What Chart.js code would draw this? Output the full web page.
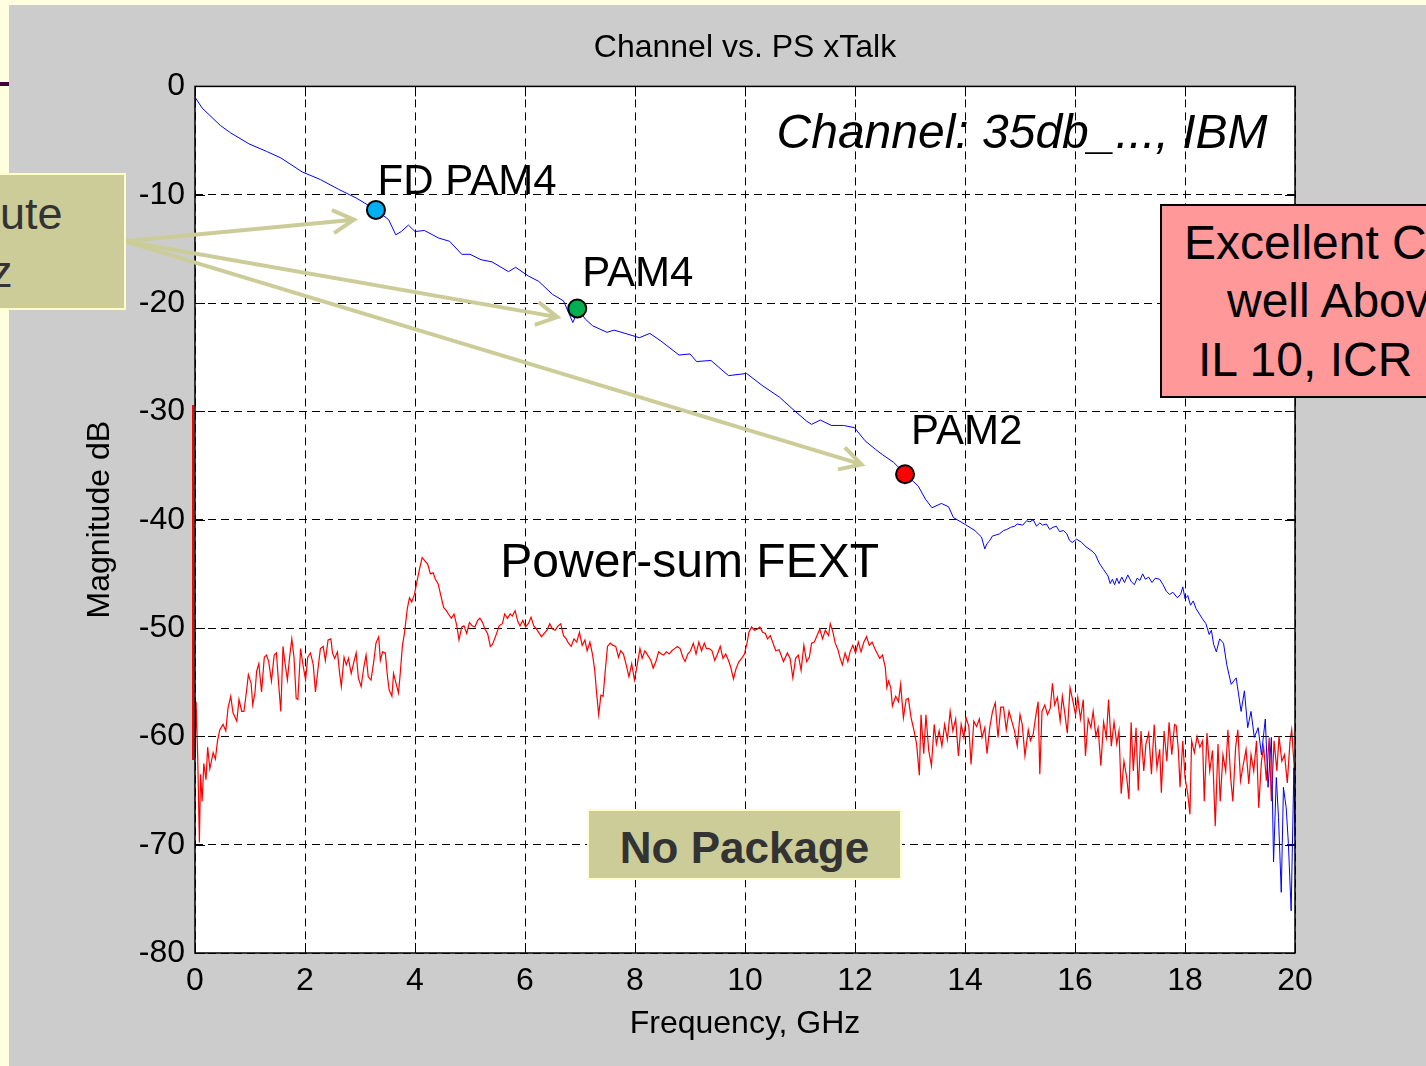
<!DOCTYPE html>
<html lang="en">
<head>
<meta charset="UTF-8">
<title>Channel vs. PS xTalk</title>
<script src="https://cdn.jsdelivr.net/npm/chart.js"></script>
<style>
    body {
        margin: 0;
        width: 1426px;
        height: 1066px;
        overflow: hidden;
        position: relative;
        background: #ffffe0;
        font-family: "Liberation Sans", Arial, sans-serif;
    }
    #panel { position: absolute; left: 9px; top: 5px; right: 0; bottom: 0; background: #cccccc; }
    #bar { position: absolute; left: 0; top: 82px; width: 9px; height: 4px; background: #400040; }
    #wrap { position: absolute; left: 64px; top: 0; width: 1362px; height: 1066px; }
    #redEdge { position: absolute; left: 192px; top: 405px; width: 2px; height: 355px; background: #ff0000; }
    .olive { position: absolute; background: #cccc99; border: 2px solid #ffffcc; box-sizing: border-box; }
    #leftBox { left: -10px; top: 173px; width: 136px; height: 137px; }
    .leftTxt { position: absolute; font-size: 45px; line-height: 58px; color: #333333; white-space: nowrap; }
    #pinkBox { position: absolute; left: 1160px; top: 204px; width: 300px; height: 194px; background: #ff9999; border: 2px solid #000; box-sizing: border-box; }
    .pinkTxt { position: absolute; font-size: 48px; line-height: 58px; color: #000; white-space: nowrap; }
    #pkgBox { left: 587px; top: 809px; width: 315px; height: 71px; display: flex; align-items: center; justify-content: center; padding-top: 6px; font-weight: bold; font-size: 44px; color: #333333; }
</style>
</head>
<body>
<div id="panel"></div>
<div id="bar"></div>
<div id="wrap"><canvas id="chart" width="1362" height="1066"></canvas></div>
<div id="redEdge"></div>
<div id="leftBox" class="olive"></div>
<div class="leftTxt" style="left:0; top:185px;">ute</div>
<div class="leftTxt" style="left:-10px; top:243px;">z</div>
<div id="pinkBox"></div>
<div class="pinkTxt" style="left:1184px; top:214px;">Excellent C</div>
<div class="pinkTxt" style="left:1227px; top:272px;">well Abov</div>
<div class="pinkTxt" style="left:1198px; top:331px;">IL 10, ICR</div>
<div id="pkgBox" class="olive">No Package</div>

<script>
// channel insertion loss (blue)
const ilFreq = [0.00, 0.13, 0.46, 0.65, 0.98, 1.30, 1.56, 1.95, 2.28, 2.61,
    2.93, 3.29, 3.52, 3.65, 3.75, 3.88, 4.00, 4.17, 4.43, 4.63,
    4.85, 5.00, 5.20, 5.40, 5.70, 5.83, 6.06, 6.25, 6.50, 6.70,
    6.87, 6.97, 7.10, 7.23, 7.49, 7.62, 7.82, 8.08, 8.27, 8.47,
    8.80, 9.00, 9.12, 9.38, 9.70, 10.03, 10.31, 10.63, 10.89, 11.12,
    11.21, 11.37, 11.57, 11.79, 11.99, 12.18, 12.37, 12.50, 12.70, 12.94,
    13.15, 13.28, 13.40, 13.57, 13.70, 13.79, 13.99, 14.18, 14.30, 14.36,
    14.40, 14.44, 14.50, 14.57, 14.63, 14.70, 14.76, 14.83, 14.90, 14.95,
    15.05, 15.12, 15.18, 15.24, 15.30, 15.36, 15.41, 15.48, 15.54, 15.60,
    15.66, 15.72, 15.79, 15.85, 15.90, 15.95, 16.03, 16.12, 16.20, 16.31,
    16.37, 16.44, 16.52, 16.60, 16.64, 16.68, 16.72, 16.76, 16.80, 16.85,
    16.90, 16.96, 17.02, 17.08, 17.13, 17.18, 17.23, 17.28, 17.34, 17.40,
    17.46, 17.54, 17.60, 17.66, 17.72, 17.78, 17.86, 17.92, 17.96, 18.00,
    18.05, 18.10, 18.15, 18.20, 18.31, 18.38, 18.44, 18.48, 18.52, 18.57,
    18.63, 18.70, 18.76, 18.84, 18.93, 19.02, 19.08, 19.14, 19.20, 19.26,
    19.33, 19.39, 19.46, 19.51, 19.57, 19.61, 19.66, 19.70, 19.75, 19.79,
    19.84, 19.88, 19.93, 19.98, 20.00];
const ilDb = [-1.0, -2.0, -3.6, -4.3, -5.3, -6.0, -6.6, -7.9, -8.6, -9.5,
    -10.3, -11.4, -12.3, -13.7, -13.4, -12.8, -13.4, -13.3, -14.0, -14.3,
    -15.5, -15.5, -16.0, -16.2, -17.1, -16.7, -17.5, -18.0, -19.2, -19.8,
    -21.8, -20.6, -21.5, -22.1, -22.7, -22.5, -22.8, -23.2, -22.8, -23.5,
    -24.8, -24.7, -25.4, -25.3, -26.7, -26.5, -27.6, -28.7, -29.9, -30.9,
    -31.2, -30.8, -31.3, -31.3, -31.5, -32.7, -33.5, -34.0, -34.7, -35.9,
    -36.9, -38.1, -38.9, -38.5, -38.8, -39.8, -40.4, -41.0, -41.6, -42.7,
    -42.2, -42.0, -41.5, -41.4, -41.3, -41.0, -40.9, -40.7, -40.6, -40.4,
    -40.5, -40.1, -40.2, -40.0, -40.6, -40.3, -40.5, -40.4, -40.9, -40.7,
    -40.6, -41.1, -41.0, -41.3, -41.9, -42.1, -41.8, -42.1, -42.5, -42.9,
    -43.2, -44.0, -44.6, -45.2, -45.9, -45.5, -46.0, -45.4, -45.9, -45.3,
    -45.8, -45.1, -45.7, -46.0, -45.4, -45.6, -45.0, -45.5, -45.3, -45.8,
    -45.4, -45.5, -46.0, -46.6, -46.9, -46.7, -47.2, -46.9, -46.2, -47.3,
    -47.0, -47.9, -47.5, -48.2, -49.1, -49.6, -50.6, -50.2, -51.5, -52.2,
    -51.0, -51.4, -53.4, -55.2, -54.6, -57.7, -55.8, -59.2, -57.7, -60.1,
    -59.2, -61.7, -58.4, -64.7, -60.1, -71.6, -63.8, -67.5, -74.4, -64.7,
    -66.6, -69.9, -76.1, -62.9, -69.3];

// power-sum FEXT (red)
const fextFreq = [0.00, 0.02, 0.05, 0.08, 0.10, 0.13, 0.16, 0.20, 0.23, 0.27, 0.33, 0.37, 0.41, 0.45, 0.51, 0.56, 0.60, 0.65, 0.69, 0.76,
    0.80, 0.85, 0.89, 0.94, 0.97, 1.02, 1.05, 1.09, 1.12, 1.16, 1.21, 1.26, 1.30, 1.34, 1.39, 1.44, 1.48, 1.52, 1.56, 1.60,
    1.63, 1.68, 1.72, 1.76, 1.80, 1.84, 1.87, 1.92, 1.96, 2.01, 2.05, 2.10, 2.15, 2.19, 2.24, 2.28, 2.33, 2.37, 2.42, 2.47,
    2.50, 2.54, 2.59, 2.63, 2.66, 2.71, 2.75, 2.79, 2.84, 2.89, 2.93, 2.97, 3.02, 3.07, 3.11, 3.15, 3.20, 3.25, 3.29, 3.34,
    3.37, 3.41, 3.46, 3.50, 3.53, 3.58, 3.61, 3.66, 3.70, 3.73, 3.77, 3.81, 3.86, 3.90, 3.94, 3.99, 4.04, 4.08, 4.13, 4.18,
    4.23, 4.28, 4.33, 4.37, 4.42, 4.47, 4.52, 4.57, 4.62, 4.66, 4.71, 4.76, 4.80, 4.85, 4.89, 4.94, 4.99, 5.04, 5.09, 5.14,
    5.18, 5.23, 5.27, 5.32, 5.37, 5.41, 5.47, 5.53, 5.59, 5.63, 5.68, 5.73, 5.77, 5.82, 5.87, 5.91, 5.96, 6.01, 6.06, 6.11,
    6.16, 6.21, 6.26, 6.30, 6.35, 6.40, 6.45, 6.50, 6.55, 6.60, 6.65, 6.70, 6.75, 6.79, 6.84, 6.89, 6.94, 6.99, 7.04, 7.09,
    7.13, 7.18, 7.23, 7.27, 7.30, 7.34, 7.38, 7.42, 7.46, 7.50, 7.55, 7.60, 7.65, 7.70, 7.74, 7.79, 7.84, 7.89, 7.94, 7.99,
    8.04, 8.09, 8.13, 8.18, 8.23, 8.29, 8.33, 8.38, 8.43, 8.48, 8.52, 8.57, 8.62, 8.67, 8.72, 8.77, 8.82, 8.87, 8.91, 8.96,
    9.01, 9.06, 9.11, 9.16, 9.21, 9.26, 9.30, 9.35, 9.40, 9.45, 9.50, 9.55, 9.60, 9.65, 9.70, 9.74, 9.79, 9.84, 9.89, 9.94,
    9.99, 10.04, 10.07, 10.12, 10.17, 10.22, 10.27, 10.32, 10.37, 10.41, 10.46, 10.51, 10.56, 10.62, 10.70, 10.77, 10.82, 10.87, 10.92, 10.97,
    11.02, 11.07, 11.12, 11.17, 11.21, 11.26, 11.31, 11.36, 11.41, 11.46, 11.52, 11.55, 11.60, 11.64, 11.69, 11.73, 11.77, 11.82, 11.87, 11.91,
    11.96, 12.01, 12.06, 12.11, 12.16, 12.21, 12.26, 12.31, 12.36, 12.40, 12.45, 12.50, 12.55, 12.58, 12.61, 12.65, 12.68, 12.74, 12.79, 12.83,
    12.88, 12.93, 12.97, 13.02, 13.07, 13.12, 13.17, 13.20, 13.25, 13.29, 13.34, 13.39, 13.44, 13.48, 13.53, 13.58, 13.63, 13.68, 13.73, 13.78,
    13.83, 13.88, 13.93, 13.98, 14.02, 14.07, 14.11, 14.16, 14.21, 14.26, 14.31, 14.36, 14.40, 14.45, 14.50, 14.55, 14.60, 14.65, 14.70, 14.75,
    14.80, 14.85, 14.90, 14.95, 15.00, 15.04, 15.09, 15.15, 15.19, 15.24, 15.29, 15.33, 15.36, 15.40, 15.45, 15.50, 15.55, 15.59, 15.63, 15.68,
    15.73, 15.77, 15.81, 15.86, 15.91, 15.96, 16.01, 16.05, 16.10, 16.15, 16.19, 16.24, 16.29, 16.33, 16.38, 16.42, 16.47, 16.52, 16.57, 16.61,
    16.66, 16.71, 16.76, 16.80, 16.84, 16.89, 16.94, 16.98, 17.02, 17.06, 17.11, 17.15, 17.20, 17.25, 17.29, 17.34, 17.39, 17.44, 17.49, 17.54,
    17.57, 17.62, 17.67, 17.71, 17.76, 17.81, 17.84, 17.88, 17.91, 17.96, 18.00, 18.05, 18.09, 18.12, 18.17, 18.22, 18.27, 18.32, 18.35, 18.40,
    18.45, 18.50, 18.55, 18.60, 18.64, 18.69, 18.74, 18.78, 18.83, 18.87, 18.92, 18.96, 19.01, 19.06, 19.11, 19.16, 19.20, 19.25, 19.30, 19.34,
    19.39, 19.43, 19.48, 19.53, 19.57, 19.62, 19.67, 19.71, 19.76, 19.81, 19.86, 19.91, 19.94, 19.99];
const fextDb = [-62.0, -56.8, -62.1, -69.8, -63.5, -66.0, -62.5, -64.0, -61.0, -63.0, -61.5, -62.1, -60.4, -59.4, -58.9, -59.5, -57.4, -56.3, -57.8, -58.6,
    -56.6, -57.7, -57.7, -55.7, -54.3, -55.1, -57.1, -56.0, -54.0, -53.3, -55.9, -52.7, -52.5, -53.1, -54.9, -52.5, -52.3, -55.1, -57.7, -51.7,
    -53.0, -54.8, -52.7, -51.0, -52.7, -56.5, -56.6, -51.9, -53.3, -54.8, -52.7, -52.3, -53.4, -55.9, -53.6, -51.9, -51.7, -53.0, -51.1, -51.0,
    -52.3, -52.8, -52.2, -54.2, -55.4, -52.7, -53.4, -52.8, -54.2, -53.1, -52.3, -54.6, -55.4, -53.6, -52.5, -54.5, -54.8, -53.1, -51.4, -50.8,
    -53.0, -52.2, -52.3, -54.5, -55.7, -56.3, -54.2, -55.2, -56.0, -54.3, -51.7, -50.4, -48.2, -47.2, -47.6, -46.9, -45.6, -44.6, -43.5, -43.8,
    -44.1, -45.0, -44.9, -45.5, -45.9, -47.0, -48.1, -48.4, -48.8, -49.1, -48.7, -49.8, -51.1, -49.9, -49.8, -50.5, -49.5, -49.8, -49.9, -49.3,
    -49.1, -49.5, -50.1, -50.5, -51.7, -51.5, -50.7, -49.8, -49.6, -48.7, -49.1, -48.7, -48.9, -48.4, -49.4, -49.8, -49.3, -49.9, -49.6, -49.0,
    -49.8, -50.1, -50.5, -50.8, -50.5, -50.2, -49.6, -50.1, -50.2, -49.8, -49.6, -50.7, -51.0, -51.4, -51.7, -51.0, -51.3, -50.4, -51.6, -51.1,
    -52.1, -51.3, -52.5, -54.0, -55.9, -58.0, -56.2, -56.3, -53.9, -51.7, -51.4, -51.6, -51.7, -52.7, -52.1, -52.4, -53.4, -54.5, -53.3, -54.8,
    -53.4, -51.9, -52.8, -52.1, -52.5, -53.0, -53.7, -53.1, -52.2, -52.4, -52.5, -52.2, -52.4, -52.1, -51.9, -51.7, -51.9, -52.7, -53.1, -52.4,
    -52.1, -51.4, -52.4, -51.3, -52.1, -51.4, -51.9, -51.9, -52.1, -53.0, -52.4, -51.7, -52.8, -52.4, -53.0, -53.6, -54.7, -53.7, -53.1, -52.8,
    -52.4, -51.3, -50.4, -49.9, -50.2, -50.1, -49.9, -50.4, -50.5, -51.0, -50.7, -51.4, -52.1, -52.0, -53.1, -52.3, -52.8, -54.6, -52.8, -52.5,
    -53.9, -51.6, -53.1, -52.7, -51.4, -51.3, -50.7, -50.1, -51.0, -50.2, -50.7, -49.6, -50.4, -51.4, -52.0, -52.8, -53.4, -52.3, -53.1, -52.2,
    -51.6, -52.3, -51.3, -52.2, -51.3, -50.8, -51.6, -51.3, -51.9, -52.3, -52.8, -52.5, -53.6, -55.5, -54.9, -55.5, -57.2, -56.3, -56.8, -55.2,
    -58.3, -56.6, -56.5, -58.3, -59.4, -60.7, -63.6, -58.0, -61.6, -58.0, -61.3, -62.7, -58.9, -60.7, -59.5, -60.9, -58.9, -60.3, -57.7, -59.5,
    -58.4, -61.8, -58.9, -60.1, -58.3, -59.1, -62.6, -58.6, -59.1, -58.4, -60.1, -59.2, -61.6, -59.2, -57.7, -56.9, -60.1, -57.3, -57.3, -59.4,
    -57.7, -58.6, -59.5, -60.9, -58.0, -58.9, -61.8, -59.4, -60.4, -59.8, -58.0, -56.8, -63.5, -57.7, -57.1, -58.0, -57.4, -55.1, -57.1, -56.4,
    -58.6, -56.3, -57.7, -59.7, -55.5, -56.7, -58.0, -56.4, -58.4, -56.6, -61.8, -58.4, -59.2, -57.7, -60.0, -59.2, -62.7, -58.7, -60.1, -56.6,
    -60.9, -58.7, -60.7, -59.5, -65.3, -62.3, -63.8, -65.8, -58.7, -63.2, -59.2, -65.0, -59.5, -63.2, -60.7, -59.7, -63.5, -58.9, -62.9, -61.2,
    -65.2, -59.5, -62.3, -58.7, -61.7, -58.9, -59.0, -61.3, -64.7, -60.4, -63.8, -65.3, -67.2, -60.4, -61.5, -60.0, -61.0, -60.4, -66.0, -59.7,
    -63.2, -61.3, -68.3, -60.7, -66.0, -61.7, -63.2, -59.4, -63.8, -66.0, -61.0, -59.4, -64.1, -62.6, -61.2, -64.4, -61.7, -63.2, -60.4, -66.6,
    -62.3, -61.0, -64.1, -60.1, -66.0, -60.4, -63.2, -60.0, -62.3, -61.7, -64.3, -60.4, -59.4, -63.2];

// symbol-rate points on the channel curve
const markerNames = ['FD PAM4', 'PAM4', 'PAM2'];
const markerFreq = [3.29, 6.95, 12.91];
const markerDb = [-11.4, -20.5, -35.8];
const markerColors = ['#00b0f0', '#00b050', '#ff0000'];

// axis ticks
const freqTicks = [0, 2, 4, 6, 8, 10, 12, 14, 16, 18, 20];
const dbTicks = [0, -10, -20, -30, -40, -50, -60, -70, -80];

const toXY = (xs, ys) => xs.map((x, i) => ({ x: x, y: ys[i] }));

const FONT = '"Liberation Sans", Arial, sans-serif';

// text placed on the axes (data coords, left/baseline)
const notes = [
    { text: markerNames[0], x: 3.32, y: -9.9, font: '42px ' + FONT, align: 'left' },
    { text: markerNames[1], x: 7.04, y: -18.4, font: '42px ' + FONT, align: 'left' },
    { text: markerNames[2], x: 13.02, y: -33.0, font: '42px ' + FONT, align: 'left' },
    { text: 'Power-sum FEXT', x: 5.55, y: -45.3, font: '48px ' + FONT, align: 'left' },
    { text: 'Channel: 35db_..., IBM', x: 19.5, y: -5.7, font: 'italic 48px ' + FONT, align: 'right' }
];

// callout arrows, all from the left box edge
const arrowFrom = { x: -1.27, y: -14.3 };
const arrowTo = [{ x: 2.89, y: -12.3 }, { x: 6.59, y: -21.3 }, { x: 12.12, y: -34.9 }];

function drawArrow(ctx, x0, y0, x1, y1) {
    const a = Math.atan2(y1 - y0, x1 - x0);
    const len = 24;
    ctx.beginPath();
    ctx.moveTo(x0, y0);
    ctx.lineTo(x1, y1);
    ctx.moveTo(x1 - len * Math.cos(a - 0.5), y1 - len * Math.sin(a - 0.5));
    ctx.lineTo(x1, y1);
    ctx.lineTo(x1 - len * Math.cos(a + 0.5), y1 - len * Math.sin(a + 0.5));
    ctx.stroke();
}

const matlabLook = {
    id: 'matlabLook',
    beforeDraw(chart) {
        const { ctx, chartArea: a } = chart;
        ctx.save();
        ctx.fillStyle = '#ffffff';
        ctx.fillRect(a.left, a.top, a.right - a.left, a.bottom - a.top);
        ctx.restore();
    },
    afterDatasetsDraw(chart) {
        const { ctx, chartArea: a } = chart;
        const xs = chart.scales.x, ys = chart.scales.y;
        ctx.save();

        // box + inward ticks
        ctx.strokeStyle = '#000';
        ctx.lineWidth = 1.5;
        ctx.strokeRect(a.left, a.top, a.right - a.left, a.bottom - a.top);
        ctx.lineWidth = 1;
        ctx.beginPath();
        freqTicks.forEach(v => {
            const px = Math.round(xs.getPixelForValue(v)) + 0.5;
            ctx.moveTo(px, a.bottom); ctx.lineTo(px, a.bottom - 10);
            ctx.moveTo(px, a.top); ctx.lineTo(px, a.top + 10);
        });
        dbTicks.forEach(v => {
            const py = Math.round(ys.getPixelForValue(v)) + 0.5;
            ctx.moveTo(a.left, py); ctx.lineTo(a.left + 10, py);
            ctx.moveTo(a.right, py); ctx.lineTo(a.right - 10, py);
        });
        ctx.stroke();

        // labels
        ctx.fillStyle = '#000';
        ctx.textBaseline = 'alphabetic';
        notes.forEach(n => {
            ctx.font = n.font;
            ctx.textAlign = n.align;
            ctx.fillText(n.text, xs.getPixelForValue(n.x), ys.getPixelForValue(n.y));
        });

        // arrows
        ctx.strokeStyle = '#cccc99';
        ctx.lineWidth = 4;
        ctx.lineJoin = 'miter';
        const fx = xs.getPixelForValue(arrowFrom.x), fy = ys.getPixelForValue(arrowFrom.y);
        arrowTo.forEach(t => drawArrow(ctx, fx, fy, xs.getPixelForValue(t.x), ys.getPixelForValue(t.y)));

        ctx.restore();
    }
};

new Chart(document.getElementById('chart'), {
    type: 'line',
    data: {
        datasets: [
            {
                label: 'markers',
                data: toXY(markerFreq, markerDb),
                showLine: false,
                pointRadius: 9,
                pointBackgroundColor: markerColors,
                pointBorderColor: '#000',
                pointBorderWidth: 2,
                clip: false
            },
            {
                label: 'Channel',
                data: toXY(ilFreq, ilDb),
                borderColor: '#0000ff',
                borderWidth: 1,
                pointRadius: 0,
                tension: 0
            },
            {
                label: 'Power-sum FEXT',
                data: toXY(fextFreq, fextDb),
                borderColor: '#ff0000',
                borderWidth: 1.2,
                pointRadius: 0,
                tension: 0
            }
        ]
    },
    options: {
        responsive: false,
        animation: false,
        layout: { padding: { left: 0, right: 131, top: 0, bottom: 0 } },
        plugins: {
            legend: { display: false },
            tooltip: { enabled: false },
            title: {
                display: true,
                fullSize: false,   // centre over the axes, like MATLAB
                text: 'Channel vs. PS xTalk',
                color: '#000',
                font: { family: FONT, size: 32, weight: 'normal' },
                padding: { top: 29, bottom: 19 }
            }
        },
        scales: {
            x: {
                type: 'linear',
                min: 0,
                max: 20,
                afterBuildTicks: s => { s.ticks = freqTicks.map(v => ({ value: v })); },
                afterFit: s => { s.height = 113; },
                grid: { color: '#000', lineWidth: 1, drawTicks: false },
                border: { display: false, dash: [8, 5] },
                ticks: { color: '#000', padding: 9, maxRotation: 0, font: { family: FONT, size: 32 } },
                title: {
                    display: true,
                    text: 'Frequency, GHz',
                    color: '#000',
                    font: { family: FONT, size: 32 },
                    padding: { top: 0, bottom: 23 }
                }
            },
            y: {
                type: 'linear',
                min: -80,
                max: 0,
                afterBuildTicks: s => { s.ticks = dbTicks.map(v => ({ value: v })); },
                afterFit: s => { s.width = 131; },
                grid: { color: '#000', lineWidth: 1, drawTicks: false },
                border: { display: false, dash: [8, 5] },
                ticks: { color: '#000', padding: 10, font: { family: FONT, size: 32 } },
                title: {
                    display: true,
                    text: 'Magnitude dB',
                    color: '#000',
                    font: { family: FONT, size: 32 },
                    padding: { top: 17, bottom: 0 }
                }
            }
        }
    },
    plugins: [matlabLook]
});
</script>
</body>
</html>
